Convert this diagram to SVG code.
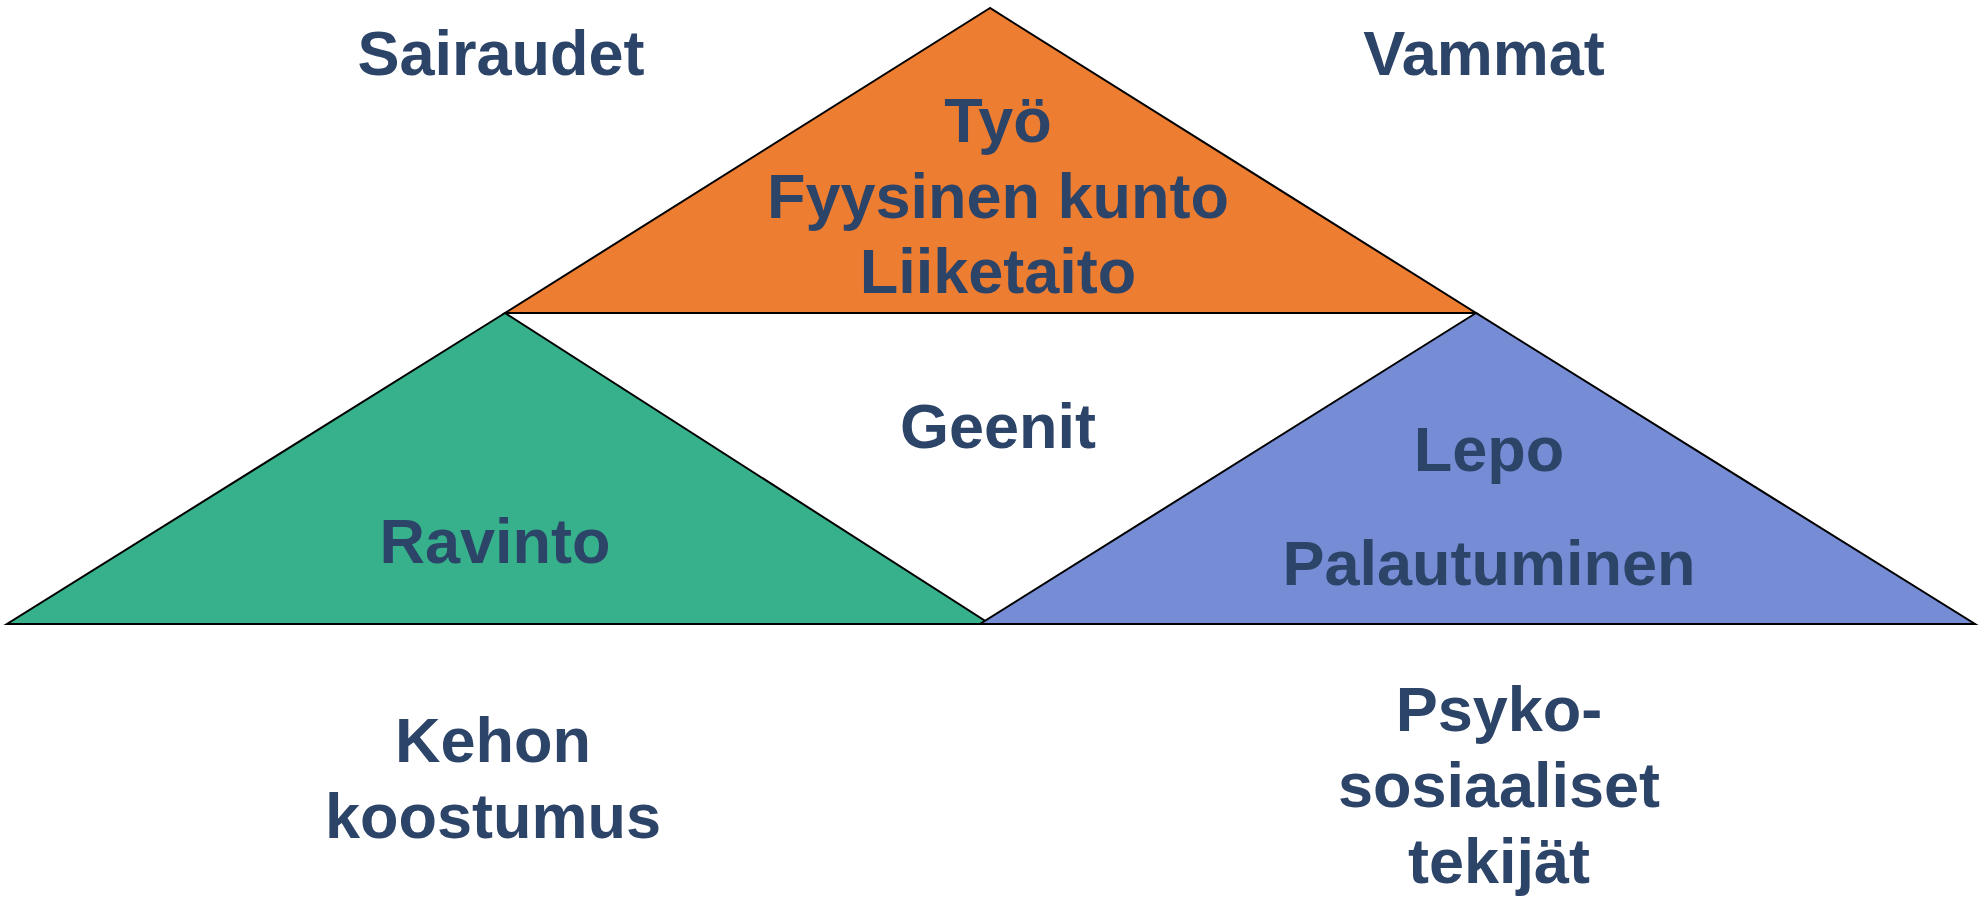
<svg xmlns="http://www.w3.org/2000/svg" width="1984" height="897" viewBox="0 0 1984 897">
<style>
.t{font-family:"Liberation Sans",Arial,sans-serif;font-weight:bold;font-size:63px;fill:#2D4469;text-anchor:middle}
.tri{stroke:#000;stroke-width:2;stroke-linejoin:miter}
</style>
<rect width="1984" height="897" fill="#fff"/>
<g id="orange">
<polygon class="tri" points="990,8 505,313 1476,313" fill="#ED7D31"/>
</g>
<g id="green">
<polygon class="tri" points="505,313 7,624 990,624" fill="#37B08C"/>
</g>
<g id="blue">
<polygon class="tri" points="1476,313 980,624 1975,624" fill="#768DD6"/>
</g>
<g id="connectors"></g>
<g id="labels">
<text class="t" x="501" y="75">Sairaudet</text>
<text class="t" x="1484" y="75">Vammat</text>
<text class="t" x="998" y="142">Työ</text>
<text class="t" x="998" y="218">Fyysinen kunto</text>
<text class="t" x="998" y="293">Liiketaito</text>
<text class="t" x="998" y="448">Geenit</text>
<text class="t" x="495" y="563">Ravinto</text>
<text class="t" x="1489" y="471">Lepo</text>
<text class="t" x="1489" y="585">Palautuminen</text>
<text class="t" x="493" y="762">Kehon</text>
<text class="t" x="493" y="838">koostumus</text>
<text class="t" x="1499" y="731">Psyko-</text>
<text class="t" x="1499" y="807">sosiaaliset</text>
<text class="t" x="1499" y="883">tekijät</text>
</g>
</svg>
